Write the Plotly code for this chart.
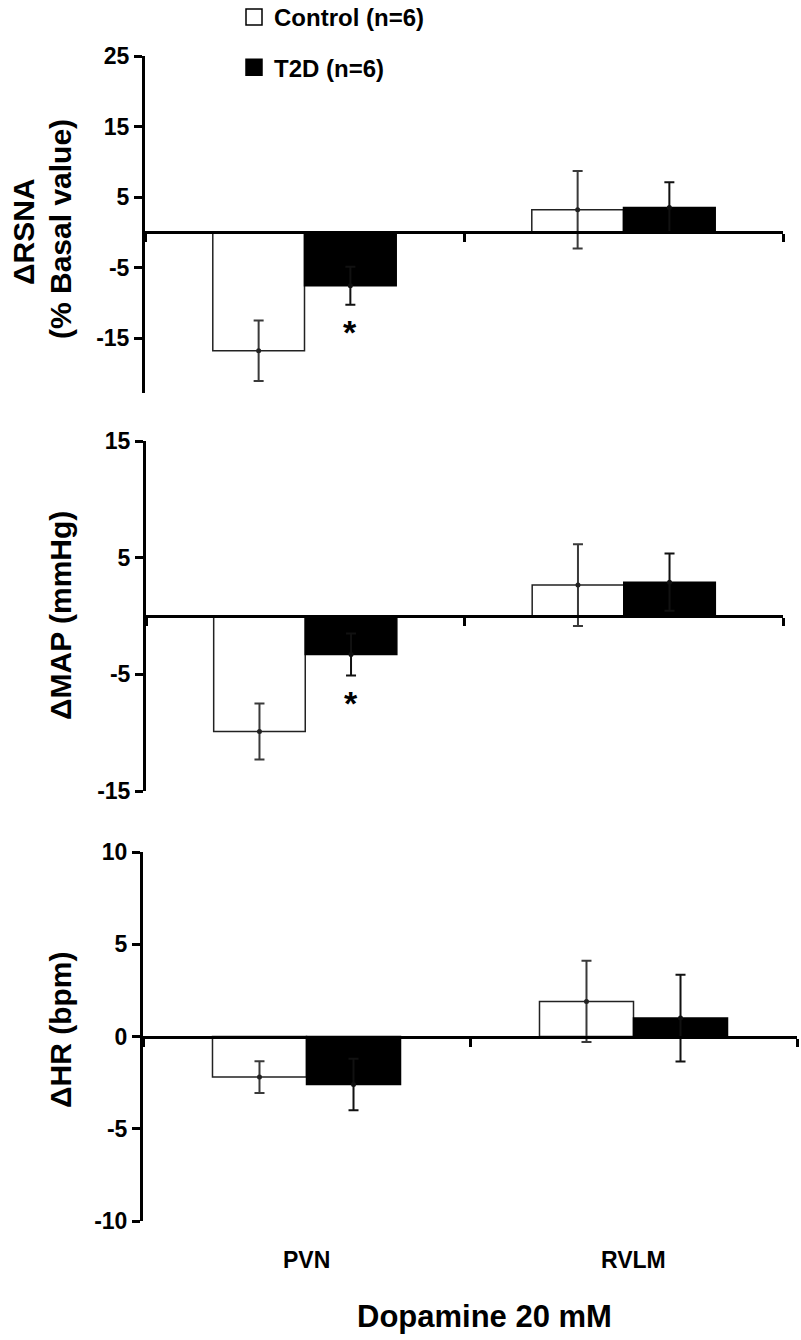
import plotly.graph_objects as go

# ---------------- data ----------------
categories = ["PVN", "RVLM"]

rsna_control = [-16.8, 3.2]
rsna_control_err = [4.3, 5.5]
rsna_t2d = [-7.6, 3.5]
rsna_t2d_err = [2.7, 3.6]

map_control = [-9.9, 2.65]
map_control_err = [2.4, 3.5]
map_t2d = [-3.3, 2.9]
map_t2d_err = [1.8, 2.45]

hr_control = [-2.2, 1.9]
hr_control_err = [0.86, 2.2]
hr_t2d = [-2.6, 1.0]
hr_t2d_err = [1.4, 2.35]

rsna_ticks = [25, 15, 5, -5, -15]
map_ticks = [15, 5, -5, -15]
hr_ticks = [10, 5, 0, -5, -10]

series_names = ["Control (n=6)", "T2D (n=6)"]
significant_t2d = {"rsna": [True, False], "map": [True, False], "hr": [False, False]}

# ---------------- layout constants ----------------
W, H = 801, 1340
FONT = "Liberation Sans, Arial, sans-serif"
BARGAP = 0.425
ERRC = "#3a3a3a"
ERRC_T2D = "#111111"


def px_x(p):
    return p / W


def px_y(p):
    return 1 - p / H


panels = [
    dict(key="rsna", ctrl=rsna_control, ce=rsna_control_err, t2d=rsna_t2d, te=rsna_t2d_err,
         ticks=rsna_ticks, rng=[-22.8, 25], ydom=(56, 393), xdom=(145, 783)),
    dict(key="map", ctrl=map_control, ce=map_control_err, t2d=map_t2d, te=map_t2d_err,
         ticks=map_ticks, rng=[-15, 15], ydom=(441, 791), xdom=(146, 783)),
    dict(key="hr", ctrl=hr_control, ce=hr_control_err, t2d=hr_t2d, te=hr_t2d_err,
         ticks=hr_ticks, rng=[-10, 10], ydom=(852, 1221), xdom=(143, 797)),
]

fig = go.Figure()
annotations = []

for i, p in enumerate(panels, start=1):
    xa = "x" if i == 1 else f"x{i}"
    ya = "y" if i == 1 else f"y{i}"
    fig.add_trace(go.Bar(
        x=categories, y=p["ctrl"], name=series_names[0], showlegend=False,
        xaxis=xa, yaxis=ya, offsetgroup="c",
        marker=dict(color="white", line=dict(color="#222222", width=1.5)),
        error_y=dict(type="data", array=p["ce"], visible=True, color=ERRC, thickness=2, width=5),
    ))
    fig.add_trace(go.Bar(
        x=categories, y=p["t2d"], name=series_names[1], showlegend=False,
        xaxis=xa, yaxis=ya, offsetgroup="t",
        marker=dict(color="black", line=dict(color="black", width=1.5)),
        error_y=dict(type="data", array=p["te"], visible=True, color=ERRC_T2D, thickness=2, width=5),
    ))
    # centre dots of the error bars
    fig.add_trace(go.Scatter(
        x=categories, y=p["ctrl"], mode="markers", showlegend=False, hoverinfo="skip",
        xaxis=xa, yaxis=ya, offsetgroup="c",
        marker=dict(color="#222222", size=5),
    ))
    fig.add_trace(go.Scatter(
        x=categories, y=p["t2d"], mode="markers", showlegend=False, hoverinfo="skip",
        xaxis=xa, yaxis=ya, offsetgroup="t",
        marker=dict(color="#111111", size=5),
    ))

    y0, y1 = p["ydom"]
    x0, x1 = p["xdom"]
    ydomain = [px_y(y1), px_y(y0)]
    lo, hi = p["rng"]
    zero_pos = ydomain[0] + (0 - lo) / (hi - lo) * (ydomain[1] - ydomain[0])

    fig.update_layout(**{
        ("xaxis" if i == 1 else f"xaxis{i}"): dict(
            domain=[px_x(x0), px_x(x1)], anchor="free", position=zero_pos,
            type="category", range=[-0.5, 1.5],
            showline=True, linecolor="black", linewidth=3,
            ticks="outside", tickson="boundaries", ticklen=8, tickwidth=3, tickcolor="black",
            showticklabels=False, showgrid=False, zeroline=False,
        ),
        ("yaxis" if i == 1 else f"yaxis{i}"): dict(
            domain=ydomain, anchor=xa, range=p["rng"],
            tickvals=p["ticks"], ticktext=[str(t) for t in p["ticks"]],
            showline=True, linecolor="black", linewidth=3,
            ticks="outside", ticklen=8, tickwidth=3, tickcolor="black",
            tickfont=dict(family=FONT, size=23, color="black", weight="bold"),
            showgrid=False, zeroline=False,
        ),
    })

    # significance asterisks over T2D bars
    off = (1 - BARGAP) / 4
    for k, sig in enumerate(significant_t2d[p["key"]]):
        if sig:
            annotations.append(dict(
                x=k + off, y=p["t2d"][k] - p["te"][k], xref=xa, yref=ya,
                text="*", showarrow=False, yanchor="top", yshift=-6,
                font=dict(family=FONT, size=34, color="black", weight="bold"),
            ))

# legend entries (legend-only traces so the swatches match the reference size)
fig.add_trace(go.Scatter(
    x=[None], y=[None], mode="markers", name=series_names[0], legendgroup="c",
    marker=dict(symbol="square", size=16, color="white", line=dict(color="black", width=1.5)),
))
fig.add_trace(go.Scatter(
    x=[None], y=[None], mode="markers", name=series_names[1], legendgroup="t",
    marker=dict(symbol="square", size=16, color="black", line=dict(color="black", width=1.5)),
))

# y-axis titles
title_font = dict(family=FONT, size=30, color="black", weight="bold")
for tx, ty, txt in [(23, 232, "ΔRSNA"), (60, 229, "(% Basal value)"),
                    (60, 616, "ΔMAP (mmHg)"), (60, 1030, "ΔHR (bpm)")]:
    annotations.append(dict(
        x=px_x(tx), y=px_y(ty), xref="paper", yref="paper", text=txt,
        textangle=-90, showarrow=False, xanchor="center", yanchor="middle",
        font=title_font,
    ))

# category labels under the bottom panel
for c in categories:
    annotations.append(dict(
        x=c, y=px_y(1260), xref="x3", yref="paper", text=c, showarrow=False,
        yanchor="middle", font=dict(family=FONT, size=23, color="black", weight="bold"),
    ))

annotations.append(dict(
    x=px_x(484), y=px_y(1316), xref="paper", yref="paper", text="Dopamine 20 mM",
    showarrow=False, yanchor="middle",
    font=dict(family=FONT, size=31, color="black", weight="bold"),
))

fig.update_layout(
    width=W, height=H,
    margin=dict(l=0, r=0, t=0, b=0, autoexpand=False),
    paper_bgcolor="white", plot_bgcolor="white",
    barmode="group", bargap=BARGAP, bargroupgap=0,
    scattermode="group", scattergap=BARGAP,
    font=dict(family=FONT, color="black"),
    showlegend=True,
    legend=dict(
        x=px_x(234), y=px_y(-5), xanchor="left", yanchor="top",
        font=dict(family=FONT, size=24, color="black", weight="bold"),
        tracegroupgap=16, bgcolor="rgba(0,0,0,0)",
    ),
    annotations=annotations,
)

# remove the browser's default 8px page margin so the figure sits at the window origin
fig.write_html(
    "out.html",
    config={"displayModeBar": False},
    post_script="document.body.style.margin='0px';",
)
